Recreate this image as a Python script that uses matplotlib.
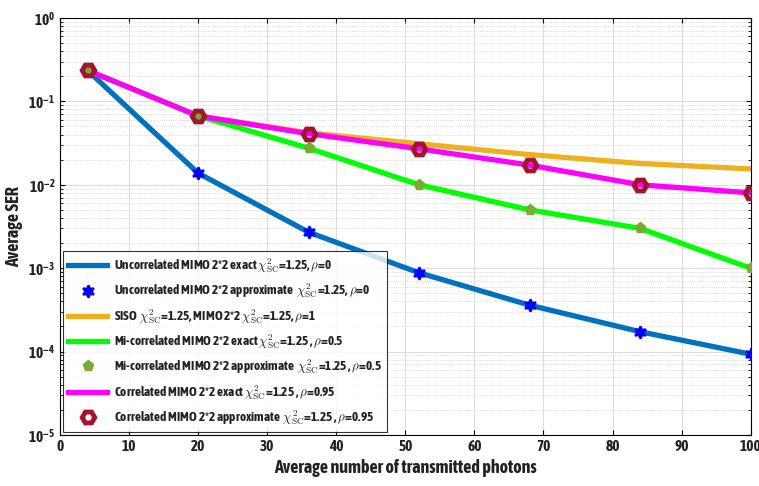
import matplotlib.pyplot as plt
import matplotlib.patheffects as pe
import numpy as np
from matplotlib import font_manager

# Prefer a narrow sans face; thicken the strokes if no bold cut exists
narrow_fonts = [f for f in font_manager.fontManager.ttflist
                if "Narrow" in f.name or "Condensed" in f.name]
bold_narrow = [f.name for f in narrow_fonts if f.weight in (600, 700, 800, "bold")]
family = (bold_narrow or sorted(f.name for f in narrow_fonts))[:1]
plt.rcParams["font.family"] = family + ["Liberation Sans", "DejaVu Sans"]
plt.rcParams["font.weight"] = "bold"
plt.rcParams["axes.labelweight"] = "bold"
plt.rcParams["mathtext.fontset"] = "cm"
fx = [] if bold_narrow else [pe.withStroke(linewidth=0.7, foreground="#222222")]

# Photon counts and SER curves
photons = [4, 20, 36, 52, 68, 84, 100]
ser_uncorr = [0.235, 0.0138, 0.0027, 0.00088, 0.00036, 0.000173, 0.000093]
ser_siso = [0.235, 0.067, 0.042, 0.031, 0.023, 0.018, 0.0155]
ser_mid = [0.235, 0.067, 0.0275, 0.0100, 0.0050, 0.0030, 0.0010]
ser_corr = [0.235, 0.067, 0.041, 0.027, 0.0172, 0.0100, 0.0080]

chi = r"$\chi^2_{\mathrm{SC}}$"
rho = r"$\rho$"
labels = [
    f"Uncorrelated MIMO 2*2 exact {chi}=1.25, {rho}=0",
    f"Uncorrelated MIMO 2*2 approximate  {chi}=1.25, {rho}=0",
    f"SISO  {chi}=1.25, MIMO 2*2 {chi}=1.25, {rho}=1",
    f"Mi-correlated MIMO 2*2 exact {chi}=1.25 , {rho}=0.5",
    f"Mi-correlated MIMO 2*2 approximate  {chi}=1.25 , {rho}=0.5",
    f"Correlated MIMO 2*2 exact {chi}=1.25 , {rho}=0.95",
    f"Correlated MIMO 2*2 approximate  {chi}=1.25 , {rho}=0.95",
]

fig = plt.figure(figsize=(7.59, 4.86), dpi=100)
ax = fig.add_axes([0.079, 0.105, 0.910, 0.858])

lw = 3.8
ax.plot(photons, ser_uncorr, color="#0072BD", lw=lw, label=labels[0], zorder=3)
ax.plot(photons, ser_uncorr, ls="none", marker=(6, 1, 0), ms=9, color="#0000FF",
        mew=1.5, label=labels[1], zorder=6)
ax.plot(photons, ser_siso, color="#EDB120", lw=lw, label=labels[2], zorder=2)
ax.plot(photons, ser_mid, color="#00FF00", lw=lw, label=labels[3], zorder=3)
ax.plot(photons, ser_mid, ls="none", marker="p", ms=8, color="#77AC30",
        label=labels[4], zorder=6)
ax.plot(photons, ser_corr, color="#FF00FF", lw=lw, label=labels[5], zorder=4)
ax.plot(photons, ser_corr, ls="none", marker="H", ms=9, mfc="none", mec="#A2142F",
        mew=3.5, label=labels[6], zorder=6)

ax.set_yscale("log")
ax.set_xlim(0, 100)
ax.set_ylim(1e-5, 1)
ax.set_xticks(np.arange(0, 101, 10))
ax.tick_params(which="both", direction="in", top=True, right=True, labelsize=11,
               labelcolor="#222222")
ax.grid(True, which="major", color="#DDDDDD", lw=0.8)
ax.grid(True, which="minor", color="#CCCCCC", ls=":", lw=0.6)
ax.set_axisbelow(True)

ax.set_xlabel("Average number of transmitted photons", fontsize=13,
              fontweight="bold", color="#222222", path_effects=fx)
ax.set_ylabel("Average SER", fontsize=13, fontweight="bold", color="#222222",
              path_effects=fx)
for t in ax.get_xticklabels() + ax.get_yticklabels():
    t.set_path_effects(fx)

leg = ax.legend(loc="lower left", fontsize=9.5, frameon=True, fancybox=False,
                edgecolor="black", borderaxespad=0.2, handlelength=3.0,
                labelspacing=0.5, handletextpad=0.5)
leg.get_frame().set_linewidth(0.8)
for t in leg.get_texts():
    t.set_color("#222222")
    t.set_path_effects(fx)

fig.savefig("out.png", dpi=100)
